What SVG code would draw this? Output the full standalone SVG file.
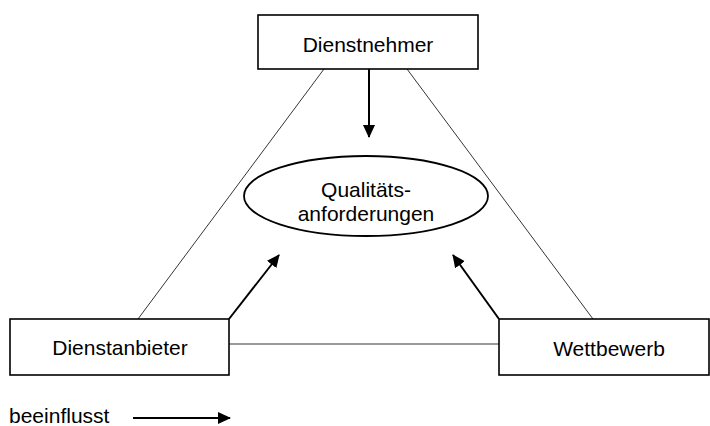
<svg xmlns="http://www.w3.org/2000/svg" width="710" height="426" viewBox="0 0 710 426">
<defs>
<marker id="ah" markerWidth="13" markerHeight="13" refX="12" refY="6.5" orient="auto" markerUnits="userSpaceOnUse" viewBox="0 0 13 13">
<path d="M0,0.5 L13,6.5 L0,12.5 z" fill="#000"/>
</marker>
<style>
.box{fill:#fff;stroke:#000;stroke-width:1.6}
.t{font-family:"Liberation Sans",Arial,sans-serif;font-size:21px;fill:#000;text-anchor:middle}
.thin{stroke:#000;stroke-width:0.8;fill:none}
.arr{stroke:#000;stroke-width:2;fill:none;marker-end:url(#ah)}
</style>
</defs>
<rect width="710" height="426" fill="#fff"/>
<g id="connectors">
<line class="thin" x1="324" y1="69" x2="138" y2="319"/>
<line class="thin" x1="407" y1="69" x2="593" y2="319"/>
<line class="thin" x1="229" y1="344" x2="499" y2="344"/>
<line class="arr" x1="369" y1="69" x2="369" y2="137"/>
<line class="arr" x1="229" y1="319" x2="279" y2="255"/>
<line class="arr" x1="499" y1="319" x2="453" y2="255"/>
</g>
<g id="dienstnehmer">
<rect class="box" x="258" y="15" width="220" height="54"/>
<text class="t" x="368" y="52">Dienstnehmer</text>
</g>
<g id="qualitaet">
<ellipse cx="366" cy="196" rx="122" ry="40" fill="#fff" stroke="#000" stroke-width="1.8"/>
<text class="t" x="366" y="197">Qualitäts-</text>
<text class="t" x="366" y="221">anforderungen</text>
</g>
<g id="dienstanbieter">
<rect class="box" x="10" y="319" width="219" height="56"/>
<text class="t" x="120" y="355">Dienstanbieter</text>
</g>
<g id="wettbewerb">
<rect class="box" x="499" y="319" width="210" height="56"/>
<text class="t" x="609" y="356">Wettbewerb</text>
</g>
<g id="legend">
<text class="t" x="9" y="423" style="text-anchor:start">beeinflusst</text>
<line class="arr" x1="133" y1="418" x2="230" y2="418"/>
</g>
</svg>
